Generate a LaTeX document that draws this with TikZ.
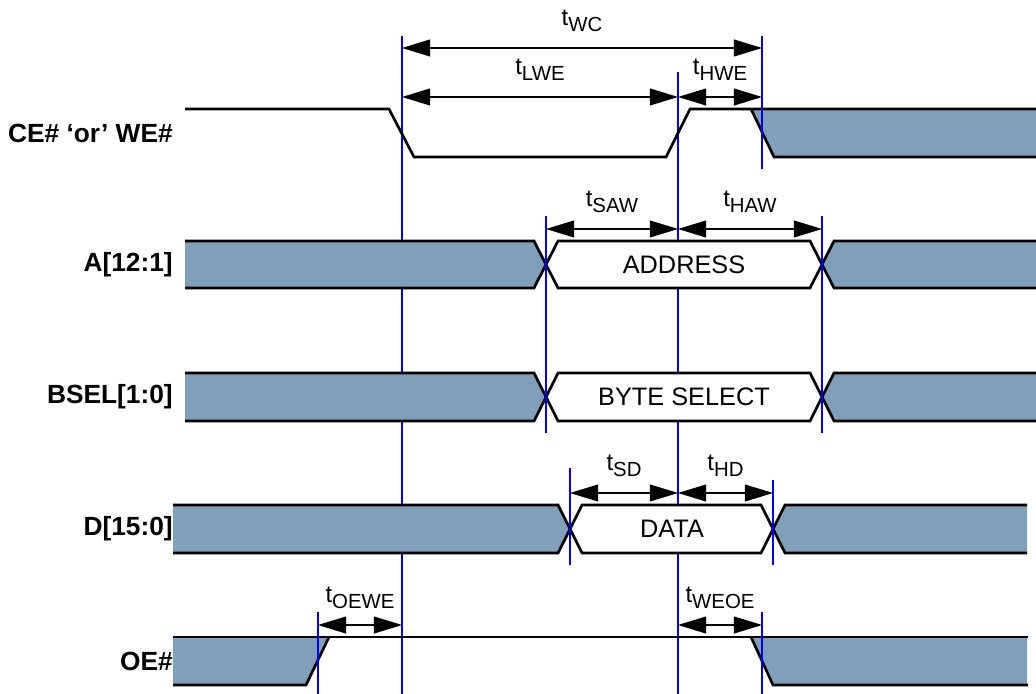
\documentclass[tikz,border=0pt]{standalone}
\usepackage{fontspec}
\setmainfont{Liberation Sans}
\usepackage{tikz}
\usetikzlibrary{arrows.meta}
\definecolor{busblue}{RGB}{128,160,185}
\newcommand{\tsub}[1]{t\raisebox{-4.2pt}{\fontsize{14.5}{15}\selectfont #1}}

\begin{document}
\begin{tikzpicture}[
  x=0.025cm, y=-0.025cm,
  sig/.style={line width=1.9pt, line join=miter},
  busfill/.style={fill=busblue},
  marker/.style={draw=blue, line width=1.1pt},
  dim/.style={{Triangle[length=20pt, width=12pt]}-{Triangle[length=20pt, width=12pt]}, line width=0.9pt},
  siglabel/.style={anchor=east, inner sep=0pt, font=\fontsize{18.7}{21}\selectfont\bfseries},
  buslabel/.style={inner sep=0pt, font=\fontsize{18}{20}\selectfont},
  tlabel/.style={anchor=base, inner sep=0pt, font=\fontsize{17}{18}\selectfont},
]
\useasboundingbox (0,0) rectangle (1036,694);

% Timing markers
\foreach \n/\x/\ya/\yb in {va/318/612/694, vb/402/36/694, vc/546/216/433, vd/570/468/565,
                          ve/678/72/694, vf/762/36/169, vg/773/480/565, vh/822/216/433, vi/762/612/694} {
  \coordinate (\n1) at (\x,\ya);
  \coordinate (\n2) at (\x,\yb);
}
% the two long markers stop at the bus rows
\foreach \n in {vb, ve} {
  \draw [marker] (\n1) -- (\n1 |- 0,241);
  \foreach \ya/\yb in {288/373, 421/505, 553/694}
    \draw [marker] (\n1 |- 0,\ya) -- (\n1 |- 0,\yb);
}

% Signal names
\node (ce) [siglabel] at (173,133) {CE\# ‘or’ WE\#};
\node (addr) [siglabel] at (173,265) {A[12:1]};
\node (bsel) [siglabel] at (173,397) {BSEL[1:0]};
\node (data) [siglabel] at (173,529) {D[15:0]};
\node (oe) [siglabel] at (173,661) {OE\#};

% CE# 'or' WE#
\fill [busfill] (751,109) -- (1036,109) -- (1036,157) -- (774,157) -- cycle;
\draw [sig] (185,109) -- (389,109) -- (414,157) -- (666,157) -- (690,109) -- (1036,109);
\draw [sig] (751,109) -- (774,157) -- (1036,157);

% Bus rows
\foreach \yt/\yb/\xl/\xa/\xb/\xr/\xt/\txt [count=\k] in {241/288/185/546/822/1036/684/ADDRESS,
    373/421/185/546/822/1036/684/BYTE SELECT, 505/553/173/570/773/1027/672/DATA} {
  \fill [busfill] (\xl,\yt) -- (\xa-12,\yt) -- (\xa,{(\yt+\yb)/2}) -- (\xa-12,\yb) -- (\xl,\yb) -- cycle;
  \fill [busfill] (\xr,\yt) -- (\xb+12,\yt) -- (\xb,{(\yt+\yb)/2}) -- (\xb+12,\yb) -- (\xr,\yb) -- cycle;
  \fill [white] (\xa,{(\yt+\yb)/2}) -- (\xa+12,\yt) -- (\xb-12,\yt) -- (\xb,{(\yt+\yb)/2}) -- (\xb-12,\yb) -- (\xa+12,\yb) -- cycle;
  \draw [sig] (\xl,\yt) -- (\xa-12,\yt) -- (\xa+12,\yb) -- (\xb-12,\yb) -- (\xb+12,\yt) -- (\xr,\yt);
  \draw [sig] (\xl,\yb) -- (\xa-12,\yb) -- (\xa+12,\yt) -- (\xb-12,\yt) -- (\xb+12,\yb) -- (\xr,\yb);
  \node (bus\k) [buslabel] at (\xt,{(\yt+\yb)/2}) {\txt};
}

% OE#
\fill [busfill] (173,637) -- (329,637) -- (306,685) -- (173,685) -- cycle;
\fill [busfill] (751,637) -- (1027,637) -- (1027,685) -- (773,685) -- cycle;
\draw [sig] (173,637) -- (1028,637);
\draw [sig] (173,685) -- (306,685) -- (329,637);
\draw [sig] (751,637) -- (773,685) -- (1028,685);

\foreach \n in {va, vc, vd, vf, vg, vh, vi}
  \draw [marker] (\n1) -- (\n2);

% Timing parameters
\foreach \a/\b/\y/\sub in {vb/vf/48/WC, vb/ve/97/LWE, ve/vf/97/HWE, vc/ve/229/SAW, ve/vh/229/HAW,
                           vd/ve/493/SD, ve/vg/493/HD, va/vb/625/OEWE, ve/vi/625/WEOE} {
  \draw [dim] (\a1 |- 0,\y) -- (\b1 |- 0,\y) node [tlabel, midway, yshift=0.55cm] {\tsub{\sub}};
}

\end{tikzpicture}
\end{document}
